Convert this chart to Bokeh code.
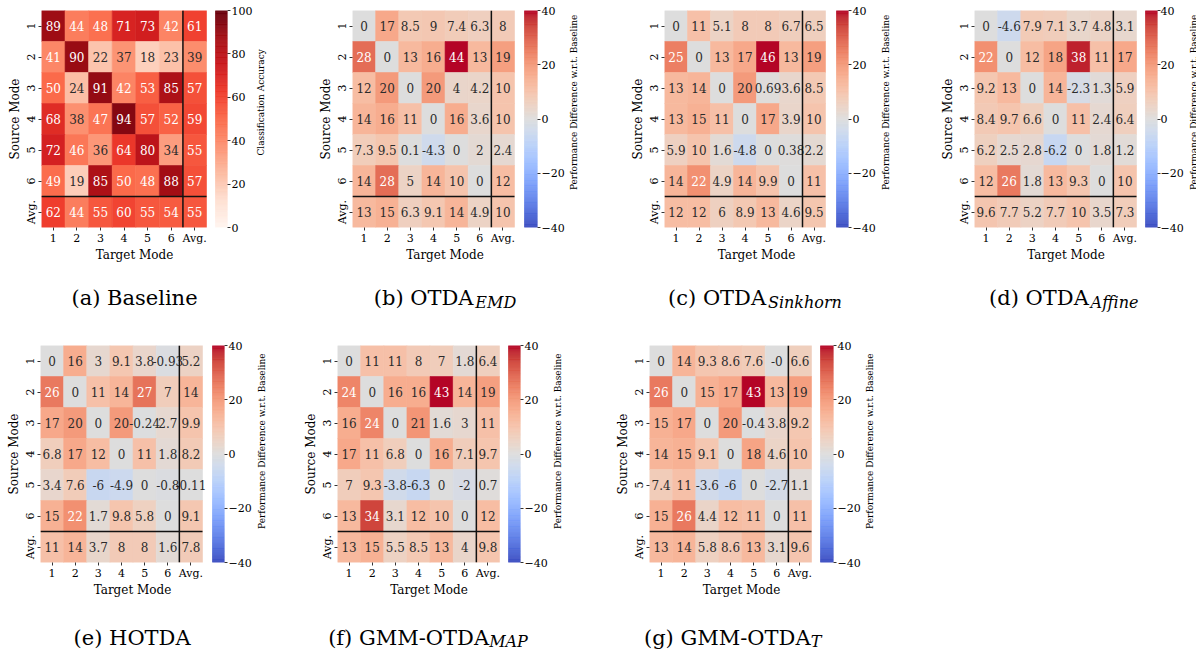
import math
import numpy as np
from bokeh.plotting import figure
from bokeh.models import Range1d, LinearAxis, FixedTicker
from bokeh.models import ColumnDataSource
from bokeh.layouts import row, column
from bokeh.embed import file_html
from bokeh.resources import INLINE
from bokeh.core.properties import value

# ---------------- data ----------------
modes = ["1", "2", "3", "4", "5", "6", "Avg."]

baseline = [
    [89, 44, 48, 71, 73, 42, 61],
    [41, 90, 22, 37, 18, 23, 39],
    [50, 24, 91, 42, 53, 85, 57],
    [68, 38, 47, 94, 57, 52, 59],
    [72, 46, 36, 64, 80, 34, 55],
    [49, 19, 85, 50, 48, 88, 57],
    [62, 44, 55, 60, 55, 54, 55],
]
otda_emd = [
    [0, 17, 8.5, 9, 7.4, 6.3, 8],
    [28, 0, 13, 16, 44, 13, 19],
    [12, 20, 0, 20, 4, 4.2, 10],
    [14, 16, 11, 0, 16, 3.6, 10],
    [7.3, 9.5, 0.1, -4.3, 0, 2, 2.4],
    [14, 28, 5, 14, 10, 0, 12],
    [13, 15, 6.3, 9.1, 14, 4.9, 10],
]
otda_sinkhorn = [
    [0, 11, 5.1, 8, 8, 6.7, 6.5],
    [25, 0, 13, 17, 46, 13, 19],
    [13, 14, 0, 20, 0.69, 3.6, 8.5],
    [13, 15, 11, 0, 17, 3.9, 10],
    [5.9, 10, 1.6, -4.8, 0, 0.38, 2.2],
    [14, 22, 4.9, 14, 9.9, 0, 11],
    [12, 12, 6, 8.9, 13, 4.6, 9.5],
]
otda_affine = [
    [0, -4.6, 7.9, 7.1, 3.7, 4.8, 3.1],
    [22, 0, 12, 18, 38, 11, 17],
    [9.2, 13, 0, 14, -2.3, 1.3, 5.9],
    [8.4, 9.7, 6.6, 0, 11, 2.4, 6.4],
    [6.2, 2.5, 2.8, -6.2, 0, 1.8, 1.2],
    [12, 26, 1.8, 13, 9.3, 0, 10],
    [9.6, 7.7, 5.2, 7.7, 10, 3.5, 7.3],
]
hotda = [
    [0, 16, 3, 9.1, 3.8, -0.93, 5.2],
    [26, 0, 11, 14, 27, 7, 14],
    [17, 20, 0, 20, -0.24, 2.7, 9.9],
    [6.8, 17, 12, 0, 11, 1.8, 8.2],
    [3.4, 7.6, -6, -4.9, 0, -0.8, -0.11],
    [15, 22, 1.7, 9.8, 5.8, 0, 9.1],
    [11, 14, 3.7, 8, 8, 1.6, 7.8],
]
gmm_otda_map = [
    [0, 11, 11, 8, 7, 1.8, 6.4],
    [24, 0, 16, 16, 43, 14, 19],
    [16, 24, 0, 21, 1.6, 3, 11],
    [17, 11, 6.8, 0, 16, 7.1, 9.7],
    [7, 9.3, -3.8, -6.3, 0, -2, 0.7],
    [13, 34, 3.1, 12, 10, 0, 12],
    [13, 15, 5.5, 8.5, 13, 4, 9.8],
]
gmm_otda_t = [
    [0, 14, 9.3, 8.6, 7.6, -0.0, 6.6],
    [26, 0, 15, 17, 43, 13, 19],
    [15, 17, 0, 20, -0.4, 3.8, 9.2],
    [14, 15, 9.1, 0, 18, 4.6, 10],
    [7.4, 11, -3.6, -6, 0, -2.7, 1.1],
    [15, 26, 4.4, 12, 11, 0, 11],
    [13, 14, 5.8, 8.6, 13, 3.1, 9.6],
]
acc_ticks = [0, 20, 40, 60, 80, 100]
diff_ticks = [-40, -20, 0, 20, 40]

# ---------------- colormaps ----------------
REDS_HEX = ["#fff5f0", "#fee0d2", "#fcbba1", "#fc9272", "#fb6a4a",
            "#ef3b2c", "#cb181d", "#a50f15", "#67000d"]
REDS = [tuple(int(h[k:k + 2], 16) for k in (1, 3, 5)) for h in REDS_HEX]
COOLWARM = [
    (59, 76, 192), (68, 90, 204), (77, 104, 215), (87, 117, 225), (98, 130, 234),
    (108, 142, 241), (119, 154, 247), (130, 165, 251), (141, 176, 254), (152, 185, 255),
    (163, 194, 255), (174, 201, 253), (184, 208, 249), (194, 213, 244), (204, 217, 238),
    (213, 219, 230), (221, 221, 221), (229, 216, 209), (236, 211, 197), (241, 204, 185),
    (245, 196, 173), (247, 187, 160), (247, 177, 148), (247, 166, 135), (244, 154, 123),
    (241, 141, 111), (236, 127, 99), (229, 112, 88), (222, 96, 77), (213, 80, 66),
    (203, 62, 56), (192, 40, 47), (180, 4, 38),
]


def cmap_rgb(stops, t):
    t = min(max(t, 0.0), 1.0)
    pos = t * (len(stops) - 1)
    i = min(int(math.floor(pos)), len(stops) - 2)
    f = pos - i
    a, b = stops[i], stops[i + 1]
    return tuple(a[k] + (b[k] - a[k]) * f for k in range(3))


def hexc(rgb):
    return "#%02x%02x%02x" % tuple(int(round(c)) for c in rgb)


def rel_lum(rgb):
    lin = []
    for c in rgb:
        c = c / 255.0
        lin.append(c / 12.92 if c <= 0.03928 else ((c + 0.055) / 1.055) ** 2.4)
    return 0.2126 * lin[0] + 0.7152 * lin[1] + 0.0722 * lin[2]


FONT = "DejaVu Serif"
REG = {'(': .39, ')': .39, ' ': .318, 'a': .596, 'b': .64, 'c': .56, 'd': .64, 'e': .592,
       'f': .37, 'g': .64, 'B': .735, 's': .513, 'l': .32, 'i': .32, 'n': .644, 'O': .787,
       'T': .71, 'D': .83, 'A': .722, 'H': .872, 'G': .775, 'M': .995, '-': .338}
ITA = {'E': .73, 'M': .995, 'D': .83, 'S': .685, 'i': .32, 'n': .644, 'k': .608, 'h': .644,
       'o': .602, 'r': .478, 'A': .722, 'f': .37, 'P': .703, 'T': .71, 'e': .592}


def est_w(s, size, italic=False):
    tab = ITA if italic else REG
    return sum(tab.get(ch, 0.6) for ch in s) * size


HH = 217      # heat-map height in px
ROW_H = 280   # height of a heat-map figure row


def blank_fig(w, h):
    f = figure(width=w, height=h, x_range=Range1d(0, w), y_range=Range1d(0, h),
               min_border=0, x_axis_location=None, y_axis_location=None,
               output_backend="svg", toolbar_location=None, tools="")
    f.outline_line_color = None
    f.grid.visible = False
    f.background_fill_color = "white"
    f.border_fill_color = "white"
    return f


def panel(vals, stops, vmin, vmax, ticks, cb_title, g):
    L, T, W = g["L"], g["T"], g["W"]
    hw, gap, cbw, R = g["hw"], g["gap"], g["cbw"], g["R"]
    colw = hw / 7.0
    fw = hw + gap + cbw
    xend = 7 + (gap + cbw) / colw

    p = figure(frame_width=fw, frame_height=HH, x_range=Range1d(0, xend), y_range=Range1d(0, 7),
               output_backend="svg", toolbar_location=None, tools="",
               min_border=0, min_border_left=L, min_border_right=R,
               min_border_top=T, min_border_bottom=ROW_H - T - HH)
    p.extra_y_ranges = {"cb": Range1d(vmin, vmax)}
    p.outline_line_color = None
    p.grid.visible = False
    p.background_fill_color = "white"
    p.border_fill_color = "white"

    xs, ys, fills, tcols, txts = [], [], [], [], []
    for i in range(7):
        for j in range(7):
            v = vals[i][j]
            rgb = cmap_rgb(stops, (v - vmin) / (vmax - vmin))
            xs.append(j + 0.5)
            ys.append(6.5 - i)
            fills.append(hexc(rgb))
            tcols.append("#2b2b2b" if rel_lum(rgb) > 0.408 else "#ffffff")
            txts.append(format(v, ".2g"))
    src = ColumnDataSource(dict(x=xs, y=ys, fill=fills, tc=tcols, t=txts))
    p.rect(x="x", y="y", width=1, height=1, fill_color="fill", line_color="fill",
           line_width=0.6, source=src)
    p.text(x="x", y="y", text="t", text_color="tc", text_font=value(FONT),
           text_font_size="12px", text_align="center", text_baseline="middle", source=src)

    # separators for the average row / column
    p.segment(x0=[6, 0], y0=[0, 1], x1=[6, 7], y1=[7, 1], line_color="#111111", line_width=1.5)

    # colour bar
    edges = np.linspace(vmin, vmax, 257)
    mids = (edges[:-1] + edges[1:]) / 2
    ccols = [hexc(cmap_rgb(stops, (m - vmin) / (vmax - vmin))) for m in mids]
    p.quad(left=7 + gap / colw, right=xend, bottom=edges[:-1], top=edges[1:],
           fill_color=ccols, line_color=ccols, line_width=0.5, y_range_name="cb")

    # axes
    xa = p.xaxis[0]
    xa.ticker = FixedTicker(ticks=[k + 0.5 for k in range(7)])
    xa.major_label_overrides = {k + 0.5: modes[k] for k in range(7)}
    ya = p.yaxis[0]
    ya.ticker = FixedTicker(ticks=[6.5 - k for k in range(7)])
    ya.major_label_overrides = {6.5 - k: modes[k] for k in range(7)}
    ya.major_label_orientation = "vertical"
    xa.axis_label = "Target Mode"
    ya.axis_label = "Source Mode"
    for ax in (xa, ya):
        ax.axis_line_color = None
        ax.major_tick_out = 3
        ax.major_tick_in = 0
        ax.minor_tick_out = 0
        ax.minor_tick_in = 0
        ax.major_tick_line_color = "black"
        ax.major_tick_line_width = 0.8
        ax.major_label_text_font = FONT
        ax.major_label_text_font_size = "11px"
        ax.major_label_text_color = "black"
        ax.major_label_standoff = 1
        ax.axis_label_text_font = FONT
        ax.axis_label_text_font_size = "12px"
        ax.axis_label_text_font_style = "normal"
        ax.axis_label_text_color = "black"
        ax.axis_label_standoff = 0

    ra = LinearAxis(y_range_name="cb", ticker=FixedTicker(ticks=ticks),
                    major_label_overrides={t: ("\u2212%d" % abs(t) if t < 0 else str(t)) for t in ticks})
    ra.axis_line_color = None
    ra.major_tick_out = 3
    ra.major_tick_in = 0
    ra.minor_tick_out = 0
    ra.minor_tick_in = 0
    ra.major_tick_line_color = "black"
    ra.major_tick_line_width = 0.8
    ra.major_label_text_font = FONT
    ra.major_label_text_font_size = "11px"
    ra.major_label_text_color = "black"
    ra.major_label_standoff = g.get("so", 1)
    p.add_layout(ra, "right")

    # colour-bar title in a thin companion figure
    tw = W - (L + fw + R)
    tf = blank_fig(tw, ROW_H)
    tf.text(x=[g["tx"]], y=[ROW_H - (T + HH / 2.0)], text=[cb_title], angle=math.pi / 2,
            text_align="center", text_baseline="middle", text_font=value(FONT),
            text_font_size="9px", text_color="black")
    return [p, tf]


def caption_fig(h, caps, base, sub_drop):
    f = blank_fig(1196, h)
    msize, ssize = 21, 16
    for cx, main, sub in caps:
        mw = est_w(main, msize)
        sw = est_w(sub, ssize, True) if sub else 0
        left = cx - (mw + sw) / 2
        f.text(x=[left], y=[h - base], text=[main], text_align="left",
               text_baseline="alphabetic", text_font=value(FONT),
               text_font_size="%dpx" % msize, text_color="black")
        if sub:
            f.text(x=[left + mw + 1], y=[h - base - sub_drop], text=[sub], text_align="left",
                   text_baseline="alphabetic", text_font=value(FONT),
                   text_font_style="italic", text_font_size="%dpx" % ssize,
                   text_color="black")
    return f


CB_ACC = "Classification Accuracy"
CB_DIFF = "Performance Difference w.r.t. Baseline"

geo_a = dict(W=300, T=10, L=41, hw=165, gap=9, cbw=12, R=27, tx=5)
geo_b = dict(W=310, T=10, L=51, hw=162, gap=10, cbw=13, R=29, tx=6)
geo_c = dict(W=290, T=10, L=52, hw=161, gap=11, cbw=12, R=29, tx=7)
geo_d = dict(W=296, T=10, L=71, hw=162, gap=9, cbw=12, R=28, tx=7, so=0)
geo_e = dict(W=290, T=15, L=40, hw=162, gap=10, cbw=12, R=29, tx=7)
geo_f = dict(W=310, T=15, L=46, hw=162, gap=9, cbw=12, R=29, tx=7)
geo_g = dict(W=596, T=15, L=47, hw=162, gap=9, cbw=13, R=29, tx=6)

top = (panel(baseline, REDS, 0, 100, acc_ticks, CB_ACC, geo_a)
       + panel(otda_emd, COOLWARM, -40, 40, diff_ticks, CB_DIFF, geo_b)
       + panel(otda_sinkhorn, COOLWARM, -40, 40, diff_ticks, CB_DIFF, geo_c)
       + panel(otda_affine, COOLWARM, -40, 40, diff_ticks, CB_DIFF, geo_d))
bottom = (panel(hotda, COOLWARM, -40, 40, diff_ticks, CB_DIFF, geo_e)
          + panel(gmm_otda_map, COOLWARM, -40, 40, diff_ticks, CB_DIFF, geo_f)
          + panel(gmm_otda_t, COOLWARM, -40, 40, diff_ticks, CB_DIFF, geo_g))

cap_top = caption_fig(50, [(134, "(a) Baseline", ""), (444, "(b) OTDA", "EMD"),
                           (754, "(c) OTDA", "Sinkhorn"), (1063, "(d) OTDA", "Affine")], 17, 5)
cap_bot = caption_fig(41, [(132, "(e) HOTDA", ""), (427, "(f) GMM-OTDA", "MAP"),
                           (732, "(g) GMM-OTDA", "T")], 27, 4)

layout = column(row(*top), cap_top, row(*bottom), cap_bot)
open("out.html", "w").write(file_html(layout, INLINE))
